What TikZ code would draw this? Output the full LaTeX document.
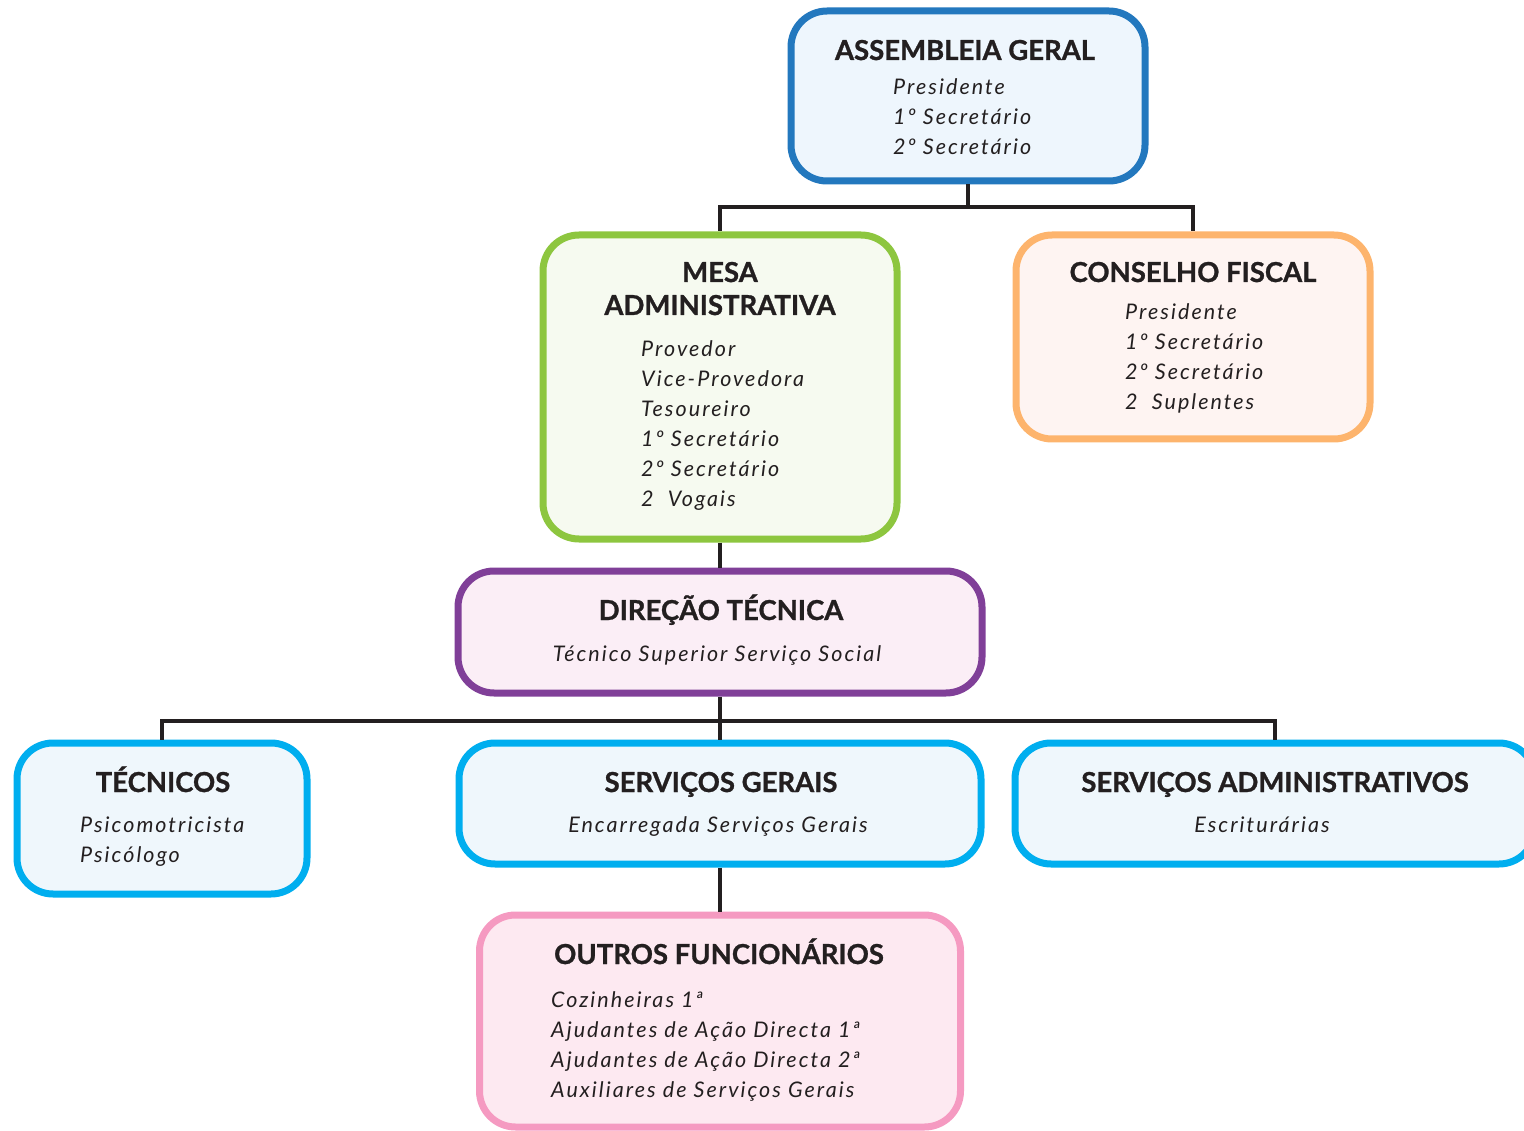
\documentclass[tikz,border=0pt]{standalone}
\usepackage{fontspec}
\setmainfont{Lato}

\definecolor{ink}{HTML}{231F20}
\definecolor{agline}{HTML}{2378BE}
\definecolor{agfill}{HTML}{EEF6FD}
\definecolor{mesaline}{HTML}{8DC63F}
\definecolor{mesafill}{HTML}{F6FAF0}
\definecolor{cfline}{HTML}{FDB46D}
\definecolor{cffill}{HTML}{FEF4F2}
\definecolor{dirline}{HTML}{803F98}
\definecolor{dirfill}{HTML}{FBEEF6}
\definecolor{svcline}{HTML}{00AEEF}
\definecolor{svcfill}{HTML}{EFF7FC}
\definecolor{outline}{HTML}{F59AC1}
\definecolor{outfill}{HTML}{FDE9F1}

\tikzset{
	box/.style={draw=#1, rounded corners=36pt, line width=7pt, inner sep=0pt},
	wire/.style={draw=ink, line width=4pt},
	title/.style={font=\fontsize{27.5}{33}\selectfont\bfseries\addfontfeatures{FakeBold=1}, text=ink, align=center, anchor=base, inner sep=0pt},
	items/.style={font=\fontsize{21.5}{30}\selectfont\itshape\addfontfeatures{LetterSpace=9.5}, text=ink, align=left, anchor=base west, inner sep=0pt},
	item/.style={items, anchor=base}
}

\begin{document}
\begin{tikzpicture}[x=1pt, y=-1pt]
	\useasboundingbox (0,0) rectangle (1524,1131);

	% Draw the boxes
	\node[box=agline, fill=agfill, minimum width=354pt, minimum height=170pt] (ag) at (968,96) {};
	\node[box=mesaline, fill=mesafill, minimum width=354pt, minimum height=304pt] (mesa) at (720,387) {};
	\node[box=cfline, fill=cffill, minimum width=354pt, minimum height=204pt] (cf) at (1193,337) {};
	\node[box=dirline, fill=dirfill, minimum width=524pt, minimum height=122pt] (dir) at (720,632) {};
	\node[box=svcline, fill=svcfill, minimum width=290pt, minimum height=151pt] (tec) at (162,818.5) {};
	\node[box=svcline, fill=svcfill, minimum width=522pt, minimum height=121pt] (sg) at (720,803.5) {};
	\node[box=svcline, fill=svcfill, minimum width=520pt, minimum height=121pt] (sa) at (1275,803.5) {};
	\node[box=outline, fill=outfill, minimum width=481pt, minimum height=212pt] (out) at (720,1021) {};

	% Draw the wires between the boxes
	\draw[wire] (ag.south) -- ++(0,23) coordinate (agj) -| (mesa.north);
	\draw[wire] (agj) -| (cf.north);
	\draw[wire] (mesa.south) -- (dir.north);
	\draw[wire] (dir.south) -- ++(0,24) coordinate (dirj) -| (tec.north);
	\draw[wire] (dirj) -| (sa.north);
	\draw[wire] (dirj) -- (sg.north);
	\draw[wire] (sg.south) -- (out.north);

	% Write the titles (base is the last line)
	\node[title] (agt) at (965,60) {ASSEMBLEIA GERAL};
	\node[title] (mesat) at (720,315) {MESA\\ADMINISTRATIVA};
	\node[title] (cft) at (1193,282) {CONSELHO FISCAL};
	\node[title] (dirt) at (721,620) {DIREÇÃO TÉCNICA};
	\node[title] (tect) at (163,792) {TÉCNICOS};
	\node[title] (sgt) at (721,792) {SERVIÇOS GERAIS};
	\node[title] (sat) at (1275,792) {SERVIÇOS ADMINISTRATIVOS};
	\node[title] (outt) at (719,964) {OUTROS FUNCIONÁRIOS};

	% Write the members (base is the last line)
	\node[items] (agi) at (893,155) {Presidente\\1º Secretário\\2º Secretário};
	\node[items] (mesai) at (641,506) {Provedor\\Vice-Provedora\\Tesoureiro\\1º Secretário\\2º Secretário\\2~ Vogais};
	\node[items] (cfi) at (1125,410) {Presidente\\1º Secretário\\2º Secretário\\2~ Suplentes};
	\node[item] (diri) at (717,661) {Técnico Superior Serviço Social};
	\node[items] (teci) at (80,862) {Psicomotricista\\Psicólogo};
	\node[item] (sgi) at (718,832) {Encarregada Serviços Gerais};
	\node[item] (sai) at (1262,832) {Escriturárias};
	\node[items] (outi) at (551,1097) {Cozinheiras 1ª\\Ajudantes de Ação Directa 1ª\\Ajudantes de Ação Directa 2ª\\Auxiliares de Serviços Gerais};

\end{tikzpicture}
\end{document}
